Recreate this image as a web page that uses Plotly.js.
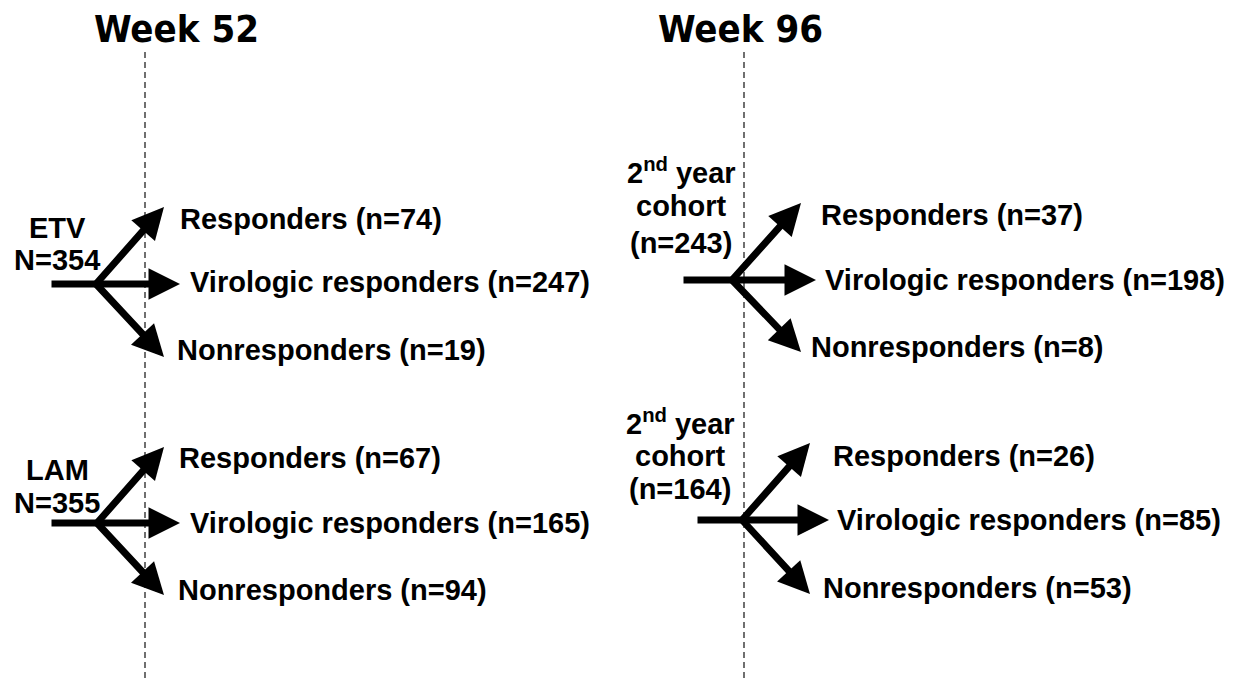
<!DOCTYPE html>
<html>
<head>
<meta charset="utf-8">
<script src="https://cdn.plot.ly/plotly-3.0.1.min.js"></script>
<style>html,body{margin:0;padding:0;background:#fff;}#chart{width:1236px;height:679px;}</style>
</head>
<body>
<div id="chart"></div>
<script>
// ---- data ----
const periodTitles = ['Week 52', 'Week 96'];
const cohortNames = [['ETV'], ['LAM'], ['2<sup>nd</sup> year', 'cohort'], ['2<sup>nd</sup> year', 'cohort']];
const cohortN = ['N=354', 'N=355', '(n=243)', '(n=164)'];
const outcomeNames = ['Responders', 'Virologic responders', 'Nonresponders'];
const responders = [74, 67, 37, 26];
const virologic = [247, 165, 198, 85];
const nonresponders = [19, 94, 8, 53];

// ---- layout geometry (positions in page pixels) ----
const W = 1236, H = 679;
const periodX = [176, 740];
const periodY = 29;
const dividerX = [145, 744];
const dividerTop = 52;
const blocks = [
  {tail: 51, branch: 96, y: 284, hTip: 180, dTip: 164, up: 207, down: 357,
   tx: [178, 188, 175], ty: [219, 282, 350], lx: 57, ly: [228, 260]},
  {tail: 51, branch: 97, y: 523, hTip: 180, dTip: 164, up: 447, down: 595,
   tx: [177, 188, 176], ty: [458, 523, 590], lx: 57, ly: [470, 503]},
  {tail: 683, branch: 732, y: 280, hTip: 816, dTip: 801, up: 203, down: 352,
   tx: [819, 823, 809], ty: [215, 280, 347], lx: 681, ly: [171, 206, 243]},
  {tail: 697, branch: 742, y: 520, hTip: 829, dTip: 810, up: 443, down: 594,
   tx: [831, 835, 821], ty: [456, 520, 588], lx: 680, ly: [422, 456, 489]}
];

const FONT = 'Liberation Sans, Arial, Helvetica, sans-serif';
const TITLE_FONT = 'DejaVu Sans Condensed, Liberation Sans Narrow, Liberation Sans, sans-serif';
const annotations = [];
const shapes = [];

periodTitles.forEach((t, i) => {
  annotations.push({x: periodX[i], y: periodY, xref: 'x', yref: 'y', text: '<b>' + t + '</b>',
    showarrow: false, xanchor: 'center', yanchor: 'middle', font: {family: TITLE_FONT, size: 38, color: '#000'}});
  shapes.push({type: 'line', xref: 'x', yref: 'y', x0: dividerX[i], x1: dividerX[i], y0: dividerTop, y1: H,
    line: {color: '#111', width: 1.2, dash: '6px,4px'}});
});

function arrow(x0, y0, x1, y1) {
  annotations.push({x: x1, y: y1, ax: x0, ay: y0, xref: 'x', yref: 'y', axref: 'x', ayref: 'y',
    text: '', showarrow: true, arrowhead: 2, arrowsize: 0.9, arrowwidth: 7, arrowcolor: '#000',
    standoff: 0, startstandoff: 0, borderpad: 0, font: {size: 1}});
}

function label(x, y, txt, anchor) {
  annotations.push({x: x, y: y, xref: 'x', yref: 'y', text: '<b>' + txt + '</b>', showarrow: false,
    xanchor: anchor, yanchor: 'middle', font: {family: FONT, size: 29, color: '#000'}});
}

blocks.forEach((b, i) => {
  arrow(b.tail, b.y, b.hTip, b.y);
  arrow(b.branch, b.y, b.dTip, b.up);
  arrow(b.branch, b.y, b.dTip, b.down);
  const lines = cohortNames[i].concat([cohortN[i]]);
  lines.forEach((ln, k) => label(b.lx, b.ly[k], ln, 'center'));
  const counts = [responders[i], virologic[i], nonresponders[i]];
  outcomeNames.forEach((o, k) => label(b.tx[k], b.ty[k], o + ' (n=' + counts[k] + ')', 'left'));
});

const layout = {
  width: W, height: H,
  margin: {l: 0, r: 0, t: 0, b: 0},
  paper_bgcolor: '#fff', plot_bgcolor: '#fff',
  xaxis: {range: [0, W], visible: false, fixedrange: true},
  yaxis: {range: [H, 0], visible: false, fixedrange: true},
  showlegend: false,
  annotations: annotations,
  shapes: shapes
};

Plotly.newPlot('chart', [], layout, {displayModeBar: false, staticPlot: true});
</script>
</body>
</html>
